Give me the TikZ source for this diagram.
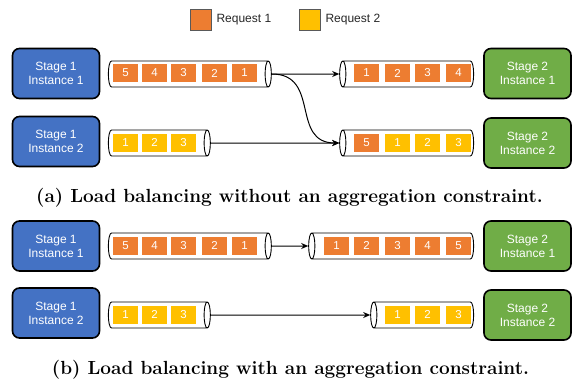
\documentclass[tikz,border=0pt]{standalone}
\usepackage{fontspec}
\setsansfont{Liberation Sans}
\usetikzlibrary{shapes.geometric,arrows.meta}

\definecolor{stageblue}{HTML}{4472C4}
\definecolor{stagegreen}{HTML}{70AD47}
\definecolor{reqone}{HTML}{ED7D31}
\definecolor{reqtwo}{HTML}{FFC000}

\tikzset{
	stage/.style={rectangle, rounded corners=7pt, draw=black, line width=1.6pt,
		minimum width=87pt, minimum height=50pt, align=center,
		text=white, font=\sffamily\fontsize{12}{14}\selectfont},
	queue/.style={cylinder, draw=black, line width=0.9pt, fill=white,
		aspect=0.25, minimum width=26pt, inner sep=12.5pt},
	req/.style={rectangle, minimum width=25pt, minimum height=18pt, inner sep=0pt,
		text=white, font=\sffamily\fontsize{11.5}{13}\selectfont},
	legend/.style={rectangle, draw=black!65, line width=0.6pt,
		minimum width=21pt, minimum height=21pt, inner sep=0pt},
	link/.style={-{Stealth[length=7pt,width=6pt]}, line width=1pt},
	caption/.style={font=\bfseries\fontsize{19}{22}\selectfont},
}

\begin{document}
\begin{tikzpicture}[x=1pt, y=-1pt]
	\useasboundingbox (0,0) rectangle (574,381);

	% legend
	\node [legend, fill=reqone] (l1) at (201,19.5) {};
	\node [anchor=west, font=\sffamily\fontsize{12}{14}\selectfont, text=black!85] (l1t) at (213,19.5) {Request 1};
	\node [legend, fill=reqtwo] (l2) at (310,19.5) {};
	\node [anchor=west, font=\sffamily\fontsize{12}{14}\selectfont, text=black!85] (l2t) at (322,19.5) {Request 2};

	% (a) without aggregation constraint
	\node [stage, fill=stageblue] (a-s1) at (56,73.5) {Stage 1\\Instance 1};
	\node [stage, fill=stageblue] (a-s2) at (56,141.5) {Stage 1\\Instance 2};
	\node [stage, fill=stagegreen] (a-t1) at (527.5,73.5) {Stage 2\\Instance 1};
	\node [stage, fill=stagegreen] (a-t2) at (527.5,143) {Stage 2\\Instance 2};

	\node [queue, minimum height=163pt] (a-q1) at (186.5,74) {};
	\node [queue, minimum height=102pt] (a-q2) at (156,143) {};
	\node [queue, shape border rotate=180, minimum height=134pt] (a-r1) at (410,74) {};
	\node [queue, shape border rotate=180, minimum height=134pt] (a-r2) at (410,143) {};

	\foreach \n/\x in {5/125.5,4/154.5,3/183.5,2/214.5,1/244.5}
		\node [req, fill=reqone] (a-q1-\n) at (\x,73) {\n};
	\foreach \n/\x in {1/125.5,2/154.5,3/183.5}
		\node [req, fill=reqtwo] (a-q2-\n) at (\x,142.5) {\n};
	\foreach \n/\x in {1/366.5,2/397.5,3/427.5,4/458.5}
		\node [req, fill=reqone] (a-r1-\n) at (\x,73) {\n};
	\node [req, fill=reqone] (a-r2-5) at (366.5,142.5) {5};
	\foreach \n/\x in {1/397.5,2/427.5,3/458.5}
		\node [req, fill=reqtwo] (a-r2-\n) at (\x,142.5) {\n};

	\draw [link] (a-q1.east) -- (a-r1.west);
	\draw [link] (a-q1.east) to[out=0, in=180, looseness=1.3] (a-r2.west);
	\draw [link] (a-q2.east) -- (a-r2.west);

	\node [caption] (cap-a) at (289.5,198) {(a) Load balancing without an aggregation constraint.};

	% (b) with aggregation constraint
	\node [stage, fill=stageblue] (b-s1) at (56,246) {Stage 1\\Instance 1};
	\node [stage, fill=stageblue] (b-s2) at (56,313) {Stage 1\\Instance 2};
	\node [stage, fill=stagegreen] (b-t1) at (527.5,246) {Stage 2\\Instance 1};
	\node [stage, fill=stagegreen] (b-t2) at (527.5,315) {Stage 2\\Instance 2};

	\node [queue, minimum height=163pt] (b-q1) at (186.5,246) {};
	\node [queue, minimum height=102pt] (b-q2) at (156,315) {};
	\node [queue, shape border rotate=180, minimum height=165pt] (b-r1) at (394.5,246) {};
	\node [queue, shape border rotate=180, minimum height=103pt] (b-r2) at (425.5,315) {};

	\foreach \n/\x in {5/125.5,4/154.5,3/183.5,2/214.5,1/244.5}
		\node [req, fill=reqone] (b-q1-\n) at (\x,245.5) {\n};
	\foreach \n/\x in {1/125.5,2/154.5,3/183.5}
		\node [req, fill=reqtwo] (b-q2-\n) at (\x,314.5) {\n};
	\foreach \n/\x in {1/336.5,2/366.5,3/397.5,4/427.5,5/458.5}
		\node [req, fill=reqone] (b-r1-\n) at (\x,245.5) {\n};
	\foreach \n/\x in {1/397.5,2/427.5,3/458.5}
		\node [req, fill=reqtwo] (b-r2-\n) at (\x,314.5) {\n};

	\draw [link] (b-q1.east) -- (b-r1.west);
	\draw [link] (b-q2.east) -- (b-r2.west);

	\node [caption] (cap-b) at (290.5,370) {(b) Load balancing with an aggregation constraint.};
\end{tikzpicture}
\end{document}
